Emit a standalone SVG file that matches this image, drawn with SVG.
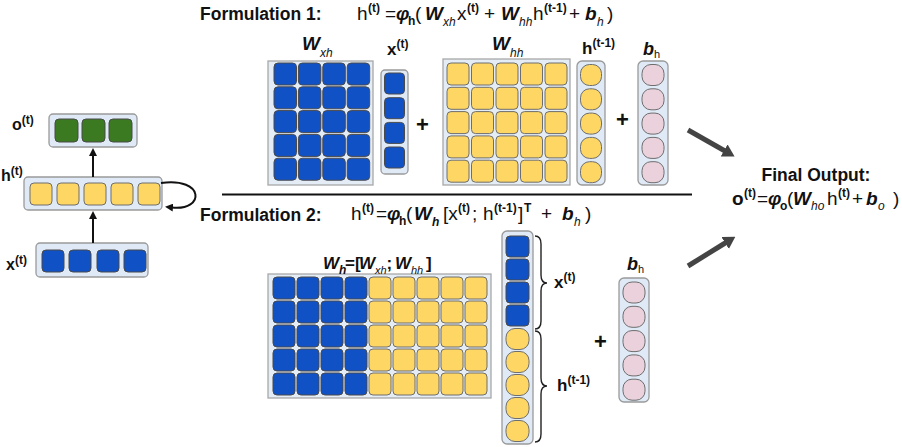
<svg xmlns="http://www.w3.org/2000/svg" width="902" height="447" viewBox="0 0 902 447">
<style>
text{font-family:"Liberation Sans",Arial,sans-serif;fill:#111;}
.t{font-size:17.5px;font-weight:bold;}
.f{font-size:19px;}
.bi{font-weight:bold;font-style:italic;}
.sb{font-size:12px;font-weight:bold;}
.si{font-size:12px;font-style:italic;}
.sr{font-size:11px;}
.box{fill:#dfeaf6;stroke:#9a9a9a;stroke-width:1.3;}
.mat{fill:#e4edf6;stroke:#a8a8a8;stroke-width:1.3;}
.b{fill:#1151c6;stroke:#4a4a4a;stroke-width:1;}
.y{fill:#fdd663;stroke:#6e6e6e;stroke-width:1;}
.g{fill:#3b7a20;stroke:#4a4a4a;stroke-width:1;}
.p{fill:#ead1dc;stroke:#6e6e6e;stroke-width:1;}
.ln{stroke:#111;stroke-width:2;fill:none;}
.thick{stroke:#444;stroke-width:5;fill:none;}
.brace{stroke:#222;stroke-width:1.4;fill:none;}
.plus{font-size:22px;font-weight:bold;}
</style>
<defs>
<marker id="ah" viewBox="0 0 8 8" refX="1" refY="4" markerWidth="8" markerHeight="8" markerUnits="userSpaceOnUse" orient="auto"><path d="M0,0 L8,4 L0,8 z" fill="#111"/></marker>
<marker id="ahT" viewBox="0 0 12 14" refX="1" refY="7" markerWidth="12" markerHeight="14" markerUnits="userSpaceOnUse" orient="auto"><path d="M0,0 L12,7 L0,14 z" fill="#444"/></marker>
</defs>

<!-- Left RNN -->
<g id="rnn-o">
<rect class="box" x="49" y="114" width="88" height="33" rx="4"/>
<rect class="g" x="55" y="119" width="23" height="23" rx="4"/>
<rect class="g" x="82" y="119" width="23" height="23" rx="4"/>
<rect class="g" x="109" y="119" width="23" height="23" rx="4"/>
<text x="12" y="130" style="font-size:16px;font-weight:bold">o<tspan class="sb" dy="-6">(t)</tspan></text>
</g>
<g id="rnn-h">
<rect class="box" x="24" y="177" width="138" height="33" rx="4"/>
<rect class="y" x="30" y="183" width="22" height="22" rx="4"/>
<rect class="y" x="57" y="183" width="22" height="22" rx="4"/>
<rect class="y" x="84" y="183" width="22" height="22" rx="4"/>
<rect class="y" x="111" y="183" width="22" height="22" rx="4"/>
<rect class="y" x="138" y="183" width="22" height="22" rx="4"/>
<text x="1" y="181" style="font-size:16px;font-weight:bold">h<tspan class="sb" dy="-6">(t)</tspan></text>
</g>
<g id="rnn-x">
<rect class="box" x="36" y="243" width="112" height="34" rx="4"/>
<rect class="b" x="42" y="250" width="22" height="22" rx="4"/>
<rect class="b" x="69" y="250" width="22" height="22" rx="4"/>
<rect class="b" x="97" y="250" width="22" height="22" rx="4"/>
<rect class="b" x="124" y="250" width="22" height="22" rx="4"/>
<text x="6" y="270" style="font-size:16px;font-weight:bold">x<tspan class="sb" dy="-6">(t)</tspan></text>
</g>

<!-- Formulation 1 -->
<g id="formula1">
<text class="t" x="200" y="20">Formulation 1:</text>
<text class="f" y="20"><tspan x="357">h</tspan><tspan class="sb" x="368" y="12">(t)</tspan><tspan x="385" y="20">=</tspan><tspan class="bi" x="396">φ</tspan><tspan class="sb" x="408" y="25">h</tspan><tspan x="415" y="20">(</tspan><tspan class="bi" x="425">W</tspan><tspan class="si" x="443" y="26">xh</tspan><tspan x="457" y="20">x</tspan><tspan class="sb" x="467" y="12">(t)</tspan><tspan x="484" y="20">+</tspan><tspan class="bi" x="501">W</tspan><tspan class="si" x="519" y="26">hh</tspan><tspan x="533" y="20">h</tspan><tspan class="sb" x="544" y="12">(t-1)</tspan><tspan x="569" y="20">+</tspan><tspan class="bi" x="585">b</tspan><tspan class="si" x="597" y="26">h</tspan><tspan x="607" y="20">)</tspan></text>
</g>

<g id="Wxh">
<rect class="mat" x="268" y="61" width="105" height="124"/>
<rect class="b" x="274" y="63" width="22.5" height="22" rx="4"/><rect class="b" x="298.4" y="63" width="22.5" height="22" rx="4"/><rect class="b" x="322.8" y="63" width="22.5" height="22" rx="4"/><rect class="b" x="347.2" y="63" width="22.5" height="22" rx="4"/>
<rect class="b" x="274" y="86.8" width="22.5" height="22" rx="4"/><rect class="b" x="298.4" y="86.8" width="22.5" height="22" rx="4"/><rect class="b" x="322.8" y="86.8" width="22.5" height="22" rx="4"/><rect class="b" x="347.2" y="86.8" width="22.5" height="22" rx="4"/>
<rect class="b" x="274" y="110.6" width="22.5" height="22" rx="4"/><rect class="b" x="298.4" y="110.6" width="22.5" height="22" rx="4"/><rect class="b" x="322.8" y="110.6" width="22.5" height="22" rx="4"/><rect class="b" x="347.2" y="110.6" width="22.5" height="22" rx="4"/>
<rect class="b" x="274" y="134.4" width="22.5" height="22" rx="4"/><rect class="b" x="298.4" y="134.4" width="22.5" height="22" rx="4"/><rect class="b" x="322.8" y="134.4" width="22.5" height="22" rx="4"/><rect class="b" x="347.2" y="134.4" width="22.5" height="22" rx="4"/>
<rect class="b" x="274" y="158.2" width="22.5" height="22" rx="4"/><rect class="b" x="298.4" y="158.2" width="22.5" height="22" rx="4"/><rect class="b" x="322.8" y="158.2" width="22.5" height="22" rx="4"/><rect class="b" x="347.2" y="158.2" width="22.5" height="22" rx="4"/>
<text x="302" y="50" style="font-size:19px" class="bi">W<tspan class="si" style="font-weight:normal" x="320" y="57">xh</tspan></text>
</g>

<g id="xt1">
<rect class="box" x="381" y="70" width="27" height="104" rx="4"/>
<rect class="b" x="384.5" y="73" width="20" height="21" rx="4"/>
<rect class="b" x="384.5" y="97.7" width="20" height="21" rx="4"/>
<rect class="b" x="384.5" y="122.4" width="20" height="21" rx="4"/>
<rect class="b" x="384.5" y="147" width="20" height="21" rx="4"/>
<text x="387" y="55" style="font-size:17px;font-weight:bold">x<tspan class="sb" dy="-7">(t)</tspan></text>
</g>
<text class="plus" x="416" y="132">+</text>

<g id="Whh">
<rect class="mat" x="443" y="59" width="127" height="126"/>
<rect class="y" x="447" y="63" width="22" height="22" rx="4"/><rect class="y" x="471.5" y="63" width="22" height="22" rx="4"/><rect class="y" x="496" y="63" width="22" height="22" rx="4"/><rect class="y" x="520.5" y="63" width="22" height="22" rx="4"/><rect class="y" x="545" y="63" width="22" height="22" rx="4"/>
<rect class="y" x="447" y="87.3" width="22" height="22" rx="4"/><rect class="y" x="471.5" y="87.3" width="22" height="22" rx="4"/><rect class="y" x="496" y="87.3" width="22" height="22" rx="4"/><rect class="y" x="520.5" y="87.3" width="22" height="22" rx="4"/><rect class="y" x="545" y="87.3" width="22" height="22" rx="4"/>
<rect class="y" x="447" y="111.6" width="22" height="22" rx="4"/><rect class="y" x="471.5" y="111.6" width="22" height="22" rx="4"/><rect class="y" x="496" y="111.6" width="22" height="22" rx="4"/><rect class="y" x="520.5" y="111.6" width="22" height="22" rx="4"/><rect class="y" x="545" y="111.6" width="22" height="22" rx="4"/>
<rect class="y" x="447" y="135.9" width="22" height="22" rx="4"/><rect class="y" x="471.5" y="135.9" width="22" height="22" rx="4"/><rect class="y" x="496" y="135.9" width="22" height="22" rx="4"/><rect class="y" x="520.5" y="135.9" width="22" height="22" rx="4"/><rect class="y" x="545" y="135.9" width="22" height="22" rx="4"/>
<rect class="y" x="447" y="160.2" width="22" height="22" rx="4"/><rect class="y" x="471.5" y="160.2" width="22" height="22" rx="4"/><rect class="y" x="496" y="160.2" width="22" height="22" rx="4"/><rect class="y" x="520.5" y="160.2" width="22" height="22" rx="4"/><rect class="y" x="545" y="160.2" width="22" height="22" rx="4"/>
<text x="492" y="50" style="font-size:19px" class="bi">W<tspan class="si" style="font-weight:normal" x="510" y="57">hh</tspan></text>
</g>

<g id="ht1">
<rect class="box" x="577" y="61" width="28" height="124" rx="5"/>
<rect class="y" x="580.5" y="64.5" width="21" height="21" rx="9"/>
<rect class="y" x="580.5" y="88.8" width="21" height="21" rx="9"/>
<rect class="y" x="580.5" y="113.1" width="21" height="21" rx="9"/>
<rect class="y" x="580.5" y="137.4" width="21" height="21" rx="9"/>
<rect class="y" x="580.5" y="161.7" width="21" height="21" rx="9"/>
<text x="582" y="54" style="font-size:17px;font-weight:bold">h<tspan class="sb" dy="-7">(t-1)</tspan></text>
</g>
<text class="plus" x="616" y="127">+</text>

<g id="bh1">
<rect class="box" x="638" y="61" width="30" height="124" rx="5"/>
<rect class="p" x="642" y="64.5" width="22" height="21" rx="9"/>
<rect class="p" x="642" y="88.8" width="22" height="21" rx="9"/>
<rect class="p" x="642" y="113.1" width="22" height="21" rx="9"/>
<rect class="p" x="642" y="137.4" width="22" height="21" rx="9"/>
<rect class="p" x="642" y="161.7" width="22" height="21" rx="9"/>
<text x="643" y="55" style="font-size:18px" class="bi">b<tspan class="sr" style="font-weight:normal;font-style:normal" x="654" y="58">h</tspan></text>
</g>

<!-- Formulation 2 -->
<g id="formula2">
<text class="t" x="200" y="221">Formulation 2:</text>
<text class="f" y="220"><tspan x="351">h</tspan><tspan class="sb" x="362" y="212">(t)</tspan><tspan x="376" y="220">=</tspan><tspan class="bi" x="387">φ</tspan><tspan class="sb" x="399" y="225">h</tspan><tspan x="406" y="220">(</tspan><tspan class="bi" x="414">W</tspan><tspan class="si" style="font-weight:bold" x="432" y="226">h</tspan><tspan x="443" y="220">[x</tspan><tspan class="sb" x="458" y="212">(t)</tspan><tspan x="472" y="220">;</tspan><tspan x="483">h</tspan><tspan class="sb" x="494" y="212">(t-1)</tspan><tspan x="518" y="220">]</tspan><tspan class="sb" x="524" y="212">T</tspan><tspan x="541" y="220">+</tspan><tspan class="bi" x="562">b</tspan><tspan class="si" x="574" y="226">h</tspan><tspan x="585" y="220">)</tspan></text>
</g>

<g id="Wh">
<rect class="mat" x="268" y="274" width="223" height="124"/>
<rect class="b" x="273" y="277" width="22" height="22" rx="4"/><rect class="b" x="297" y="277" width="22" height="22" rx="4"/><rect class="b" x="321" y="277" width="22" height="22" rx="4"/><rect class="b" x="345" y="277" width="22" height="22" rx="4"/><rect class="y" x="369" y="277" width="22" height="22" rx="4"/><rect class="y" x="393" y="277" width="22" height="22" rx="4"/><rect class="y" x="417" y="277" width="22" height="22" rx="4"/><rect class="y" x="441" y="277" width="22" height="22" rx="4"/><rect class="y" x="465" y="277" width="22" height="22" rx="4"/>
<rect class="b" x="273" y="301" width="22" height="22" rx="4"/><rect class="b" x="297" y="301" width="22" height="22" rx="4"/><rect class="b" x="321" y="301" width="22" height="22" rx="4"/><rect class="b" x="345" y="301" width="22" height="22" rx="4"/><rect class="y" x="369" y="301" width="22" height="22" rx="4"/><rect class="y" x="393" y="301" width="22" height="22" rx="4"/><rect class="y" x="417" y="301" width="22" height="22" rx="4"/><rect class="y" x="441" y="301" width="22" height="22" rx="4"/><rect class="y" x="465" y="301" width="22" height="22" rx="4"/>
<rect class="b" x="273" y="325" width="22" height="22" rx="4"/><rect class="b" x="297" y="325" width="22" height="22" rx="4"/><rect class="b" x="321" y="325" width="22" height="22" rx="4"/><rect class="b" x="345" y="325" width="22" height="22" rx="4"/><rect class="y" x="369" y="325" width="22" height="22" rx="4"/><rect class="y" x="393" y="325" width="22" height="22" rx="4"/><rect class="y" x="417" y="325" width="22" height="22" rx="4"/><rect class="y" x="441" y="325" width="22" height="22" rx="4"/><rect class="y" x="465" y="325" width="22" height="22" rx="4"/>
<rect class="b" x="273" y="349" width="22" height="22" rx="4"/><rect class="b" x="297" y="349" width="22" height="22" rx="4"/><rect class="b" x="321" y="349" width="22" height="22" rx="4"/><rect class="b" x="345" y="349" width="22" height="22" rx="4"/><rect class="y" x="369" y="349" width="22" height="22" rx="4"/><rect class="y" x="393" y="349" width="22" height="22" rx="4"/><rect class="y" x="417" y="349" width="22" height="22" rx="4"/><rect class="y" x="441" y="349" width="22" height="22" rx="4"/><rect class="y" x="465" y="349" width="22" height="22" rx="4"/>
<rect class="b" x="273" y="373" width="22" height="22" rx="4"/><rect class="b" x="297" y="373" width="22" height="22" rx="4"/><rect class="b" x="321" y="373" width="22" height="22" rx="4"/><rect class="b" x="345" y="373" width="22" height="22" rx="4"/><rect class="y" x="369" y="373" width="22" height="22" rx="4"/><rect class="y" x="393" y="373" width="22" height="22" rx="4"/><rect class="y" x="417" y="373" width="22" height="22" rx="4"/><rect class="y" x="441" y="373" width="22" height="22" rx="4"/><rect class="y" x="465" y="373" width="22" height="22" rx="4"/>
<text y="269" style="font-size:17px"><tspan class="bi" x="323">W</tspan><tspan class="si" style="font-weight:bold" x="339" y="274">h</tspan><tspan style="font-weight:bold" x="345" y="269">=[</tspan><tspan class="bi" x="359">W</tspan><tspan class="si" style="font-size:11px" x="375" y="274">xh</tspan><tspan style="font-weight:bold" x="386.5" y="269">;</tspan><tspan class="bi" x="395">W</tspan><tspan class="si" style="font-size:11px" x="411" y="274">hh</tspan><tspan style="font-weight:bold" x="426" y="269">]</tspan></text>
</g>

<g id="concat">
<rect class="box" x="502" y="231" width="31" height="213" rx="5"/>
<rect class="b" x="506" y="236" width="23" height="21" rx="4"/>
<rect class="b" x="506" y="259" width="23" height="21" rx="4"/>
<rect class="b" x="506" y="282" width="23" height="21" rx="4"/>
<rect class="b" x="506" y="305" width="23" height="21" rx="4"/>
<rect class="y" x="506" y="328.5" width="23" height="21" rx="9"/>
<rect class="y" x="506" y="351.5" width="23" height="21" rx="9"/>
<rect class="y" x="506" y="374.5" width="23" height="21" rx="9"/>
<rect class="y" x="506" y="397.5" width="23" height="21" rx="9"/>
<rect class="y" x="506" y="420.5" width="23" height="21" rx="9"/>
<path class="brace" d="M535 236 Q541 236 541 244 L541 275 Q541 283 547 283 Q541 283 541 291 L541 321 Q541 329 535 329"/>
<path class="brace" d="M535 331 Q541 331 541 339 L541 378 Q541 386 547 386 Q541 386 541 394 L541 434 Q541 442 535 442"/>
<text x="554" y="288" style="font-size:17px;font-weight:bold">x<tspan class="sb" dy="-7">(t)</tspan></text>
<text x="557" y="391" style="font-size:17px;font-weight:bold">h<tspan class="sb" dy="-7">(t-1)</tspan></text>
</g>
<text class="plus" x="594" y="349">+</text>

<g id="bh2">
<rect class="box" x="619" y="278" width="30" height="124" rx="5"/>
<rect class="p" x="623" y="282" width="22" height="21" rx="9"/>
<rect class="p" x="623" y="306.3" width="22" height="21" rx="9"/>
<rect class="p" x="623" y="330.6" width="22" height="21" rx="9"/>
<rect class="p" x="623" y="354.9" width="22" height="21" rx="9"/>
<rect class="p" x="623" y="379.2" width="22" height="21" rx="9"/>
<text x="627" y="270" style="font-size:18px" class="bi">b<tspan class="sr" style="font-weight:normal;font-style:normal" x="638" y="273">h</tspan></text>
</g>

<!-- Final output -->
<g id="final">
<text class="t" x="816" y="181" text-anchor="middle">Final Output:</text>
<text class="f" y="205"><tspan style="font-weight:bold" x="732">o</tspan><tspan class="sb" x="744" y="197">(t)</tspan><tspan x="757" y="205">=</tspan><tspan class="bi" x="768">φ</tspan><tspan class="sb" x="780" y="210">o</tspan><tspan x="787" y="205">(</tspan><tspan class="bi" x="793">W</tspan><tspan class="si" x="811" y="210">ho</tspan><tspan x="827" y="205">h</tspan><tspan class="sb" x="838" y="197">(t)</tspan><tspan x="852" y="205">+</tspan><tspan class="bi" x="866">b</tspan><tspan class="si" x="878" y="210">o</tspan><tspan x="893" y="205">)</tspan></text>
</g>

<!-- Connectors -->
<g id="connectors">
<line class="ln" x1="93" y1="243" x2="93" y2="218" marker-end="url(#ah)"/>
<line class="ln" x1="93" y1="177" x2="93" y2="155" marker-end="url(#ah)"/>
<path class="ln" d="M161 183 C 205 177, 205 211, 172 207.5" marker-end="url(#ah)"/>
<line class="ln" x1="222" y1="194.5" x2="692" y2="194.5"/>
<line class="thick" x1="688" y1="130" x2="725" y2="151" marker-end="url(#ahT)"/>
<line class="thick" x1="688" y1="266" x2="726" y2="242.5" marker-end="url(#ahT)"/>
</g>
</svg>
